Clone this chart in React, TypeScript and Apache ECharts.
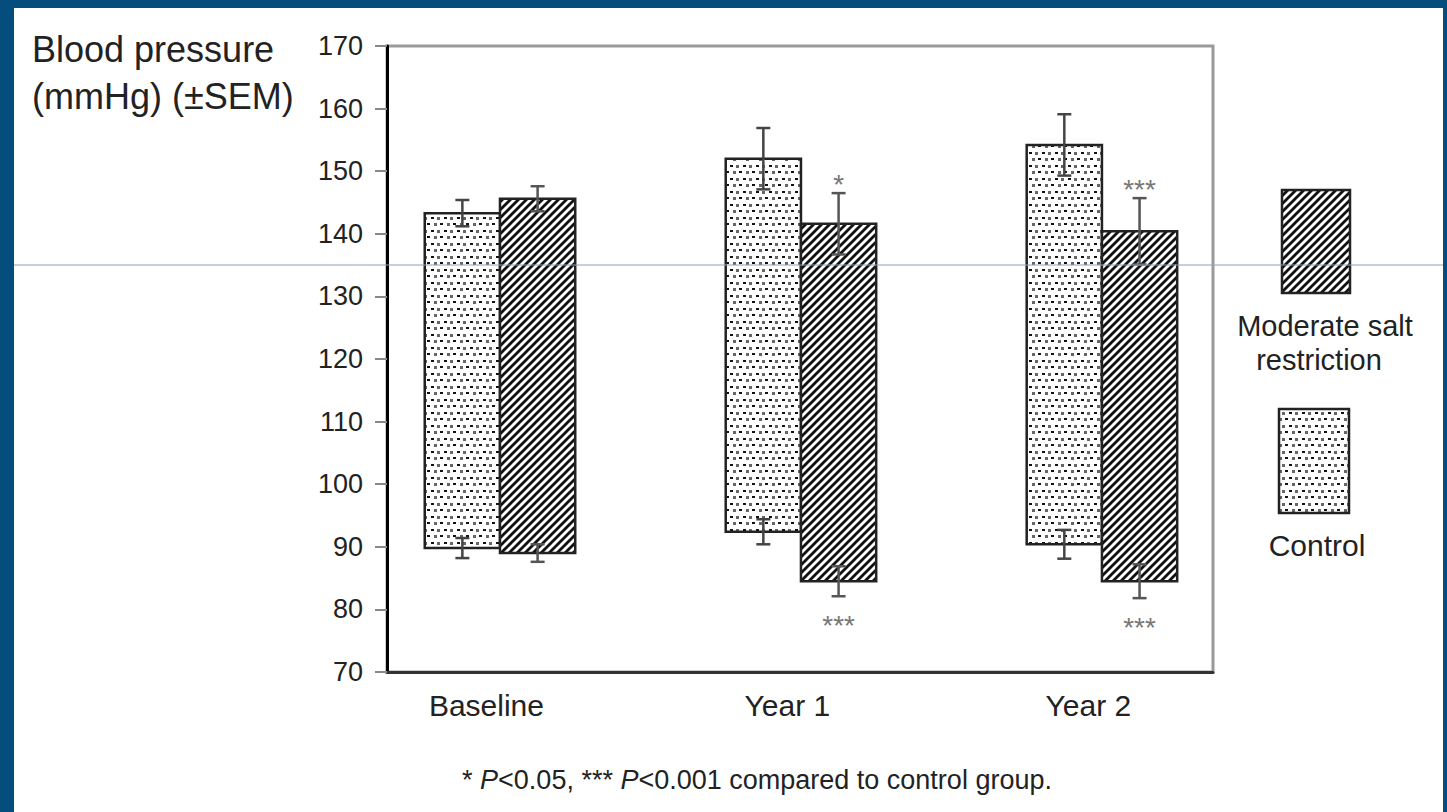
import React, { useEffect, useRef } from "react";
import * as echarts from "echarts";

const categories = ["Baseline", "Year 1", "Year 2"];
const controlSystolic = [143.3, 152.0, 154.2];
const controlSystolicSem = [2.1, 4.9, 4.9];
const controlDiastolic = [89.8, 92.4, 90.4];
const controlDiastolicSem = [1.6, 2.0, 2.3];
const saltSystolic = [145.6, 141.6, 140.4];
const saltSystolicSem = [2.0, 4.9, 5.3];
const saltDiastolic = [89.0, 84.5, 84.5];
const saltDiastolicSem = [1.4, 2.4, 2.7];
const saltSigTop = ["", "*", "***"];
const saltSigBottom = ["", "***", "***"];
const controlSigTop = ["", "", ""];
const controlSigBottom = ["", "", ""];
const yMin = 70;
const yMax = 170;
const yInterval = 10;

const FONT = "'Liberation Sans', Arial, Helvetica, sans-serif";

function makeHatch(): HTMLCanvasElement {
  const c = document.createElement("canvas");
  const s = 8;
  c.width = s;
  c.height = s;
  const g = c.getContext("2d")!;
  g.fillStyle = "#ffffff";
  g.fillRect(0, 0, s, s);
  g.strokeStyle = "#111111";
  g.lineWidth = 2.8;
  g.lineCap = "square";
  const seg = (x1: number, y1: number, x2: number, y2: number) => {
    g.beginPath();
    g.moveTo(x1, y1);
    g.lineTo(x2, y2);
    g.stroke();
  };
  seg(-2, s + 2, s + 2, -2);
  seg(-2, 2, 2, -2);
  seg(s - 2, s + 2, s + 2, s - 2);
  return c;
}

function makeDots(): HTMLCanvasElement {
  const c = document.createElement("canvas");
  const s = 13;
  c.width = s;
  c.height = s;
  const g = c.getContext("2d")!;
  g.fillStyle = "#ffffff";
  g.fillRect(0, 0, s, s);
  g.fillStyle = "#111111";
  g.fillRect(1, 1, 3, 2);
  g.fillRect(10, 7, 3, 2);
  g.fillStyle = "#666666";
  g.fillRect(7, 1, 3, 3);
  g.fillRect(4, 7, 3, 3);
  return c;
}

function buildRows(dia: number[], sys: number[], diaSem: number[], sysSem: number[]) {
  return categories.map((_, i) => [i, dia[i], sys[i], diaSem[i], sysSem[i]]);
}

export default function App() {
  const ref = useRef<HTMLDivElement>(null);

  useEffect(() => {
    if (!ref.current) return;
    const chart = echarts.init(ref.current, null, { renderer: "svg" });
    const hatch = makeHatch();
    const dots = makeDots();
    const hatchFill: any = { image: hatch, repeat: "repeat", imageWidth: 8, imageHeight: 8 };
    const dotFill: any = { image: dots, repeat: "repeat", imageWidth: 13, imageHeight: 13 };

    const makeRender = (offset: number, fill: any, errColor: string, sigTop: string[], sigBottom: string[]) =>
      (params: any, api: any) => {
        const i = api.value(0);
        const dia = api.value(1);
        const sys = api.value(2);
        const dSem = api.value(3);
        const sSem = api.value(4);
        const idx = params.dataIndex;
        const tl = api.coord([i + offset - 0.125, sys]);
        const br = api.coord([i + offset + 0.125, dia]);
        const cx = api.coord([i + offset, sys])[0];
        const yTopHi = api.coord([i, sys + sSem])[1];
        const yTopLo = api.coord([i, sys - sSem])[1];
        const yBotHi = api.coord([i, dia + dSem])[1];
        const yBotLo = api.coord([i, dia - dSem])[1];
        const cap = 7;
        const lineStyle = { stroke: errColor, lineWidth: 2.5 };
        const children: any[] = [
          {
            type: "rect",
            shape: { x: tl[0], y: tl[1], width: br[0] - tl[0], height: br[1] - tl[1] },
            style: { fill, stroke: "#222", lineWidth: 2.5 },
          },
          { type: "line", shape: { x1: cx, y1: yTopHi, x2: cx, y2: yTopLo }, style: lineStyle },
          { type: "line", shape: { x1: cx - cap, y1: yTopHi, x2: cx + cap, y2: yTopHi }, style: lineStyle },
          { type: "line", shape: { x1: cx - cap, y1: yTopLo, x2: cx + cap, y2: yTopLo }, style: lineStyle },
          { type: "line", shape: { x1: cx, y1: yBotHi, x2: cx, y2: yBotLo }, style: lineStyle },
          { type: "line", shape: { x1: cx - cap, y1: yBotHi, x2: cx + cap, y2: yBotHi }, style: lineStyle },
          { type: "line", shape: { x1: cx - cap, y1: yBotLo, x2: cx + cap, y2: yBotLo }, style: lineStyle },
        ];
        if (sigTop[idx]) {
          children.push({
            type: "text",
            x: cx,
            y: yTopHi - 9,
            style: {
              text: sigTop[idx],
              fill: "#777",
              font: `28px ${FONT}`,
              align: "center",
              verticalAlign: "middle",
            },
          });
        }
        if (sigBottom[idx]) {
          children.push({
            type: "text",
            x: cx,
            y: yBotLo + 29,
            style: {
              text: sigBottom[idx],
              fill: "#777",
              font: `28px ${FONT}`,
              align: "center",
              verticalAlign: "middle",
            },
          });
        }
        return { type: "group", children };
      };

    const option: any = {
      animation: false,
      backgroundColor: "#ffffff",
      grid: {
        left: 373,
        top: 38,
        right: 230,
        bottom: 140,
        show: true,
        borderColor: "#9a9a9a",
        borderWidth: 3,
        backgroundColor: "transparent",
        outerBoundsMode: "none",
      },
      xAxis: {
        type: "value",
        min: -0.3754,
        max: 2.369,
        splitLine: { show: false },
        axisTick: { show: false },
        axisLine: { show: true, onZero: false, lineStyle: { color: "#333", width: 3 } },
        axisLabel: {
          customValues: [-0.045, 0.955, 1.955],
          formatter: (v: number) => categories[Math.round(v)] ?? "",
          fontSize: 30,
          fontFamily: FONT,
          color: "#222",
          margin: 18,
        },
      },
      yAxis: {
        type: "value",
        min: yMin,
        max: yMax,
        interval: yInterval,
        splitLine: { show: false },
        axisLine: { show: true, onZero: false, lineStyle: { color: "#000", width: 3 } },
        axisTick: { show: true, length: 12, lineStyle: { color: "#888", width: 2 } },
        axisLabel: { fontSize: 27, fontFamily: FONT, color: "#222", margin: 24 },
      },
      title: {
        text: "Blood pressure\n(mmHg) (±SEM)",
        left: 18,
        top: 18,
        padding: 0,
        textStyle: { fontSize: 36, lineHeight: 47, fontWeight: "normal", fontFamily: FONT, color: "#222" },
      },
      series: [
        {
          type: "custom",
          name: "Control",
          renderItem: makeRender(-0.125, dotFill, "#444", controlSigTop, controlSigBottom),
          encode: { x: 0, y: [1, 2] },
          data: buildRows(controlDiastolic, controlSystolic, controlDiastolicSem, controlSystolicSem),
          z: 3,
        },
        {
          type: "custom",
          name: "Moderate salt restriction",
          renderItem: makeRender(0.125, hatchFill, "#555", saltSigTop, saltSigBottom),
          encode: { x: 0, y: [1, 2] },
          data: buildRows(saltDiastolic, saltSystolic, saltDiastolicSem, saltSystolicSem),
          z: 3,
        },
      ],
      graphic: [
        {
          type: "rect",
          shape: { x: 1268, y: 182, width: 68, height: 103 },
          style: { fill: hatchFill, stroke: "#222", lineWidth: 2.5 },
        },
        {
          type: "text",
          x: 1311,
          y: 318,
          style: {
            text: "Moderate salt",
            font: `29px ${FONT}`,
            fill: "#222",
            align: "center",
            verticalAlign: "middle",
          },
        },
        {
          type: "text",
          x: 1305,
          y: 352,
          style: {
            text: "restriction",
            font: `29px ${FONT}`,
            fill: "#222",
            align: "center",
            verticalAlign: "middle",
          },
        },
        {
          type: "rect",
          shape: { x: 1265, y: 401, width: 70, height: 104 },
          style: { fill: dotFill, stroke: "#222", lineWidth: 2.5 },
        },
        {
          type: "text",
          x: 1303,
          y: 537,
          style: { text: "Control", font: `30px ${FONT}`, fill: "#222", align: "center", verticalAlign: "middle" },
        },
        {
          type: "text",
          x: 743,
          y: 772,
          style: {
            text: "{n|* }{i|P}{n|<0.05, *** }{i|P}{n|<0.001 compared to control group.}",
            align: "center",
            verticalAlign: "middle",
            rich: {
              n: { fontSize: 27, fontFamily: FONT, fill: "#222" },
              i: { fontSize: 27, fontFamily: FONT, fontStyle: "italic", fill: "#222" },
            },
          },
        },
        {
          type: "line",
          z: 100,
          shape: { x1: 0, y1: 257, x2: 1429, y2: 257 },
          style: { stroke: "#8ea2b2", lineWidth: 1 },
        },
      ],
    };
    chart.setOption(option);
    return () => chart.dispose();
  }, []);

  return (
    <div
      style={{
        position: "fixed",
        left: 0,
        top: 0,
        width: 1447,
        height: 812,
        background: "#044d7c",
        overflow: "hidden",
      }}
    >
      <div
        ref={ref}
        style={{ position: "absolute", left: 14, top: 8, width: 1429, height: 804, background: "#ffffff" }}
      />
    </div>
  );
}
